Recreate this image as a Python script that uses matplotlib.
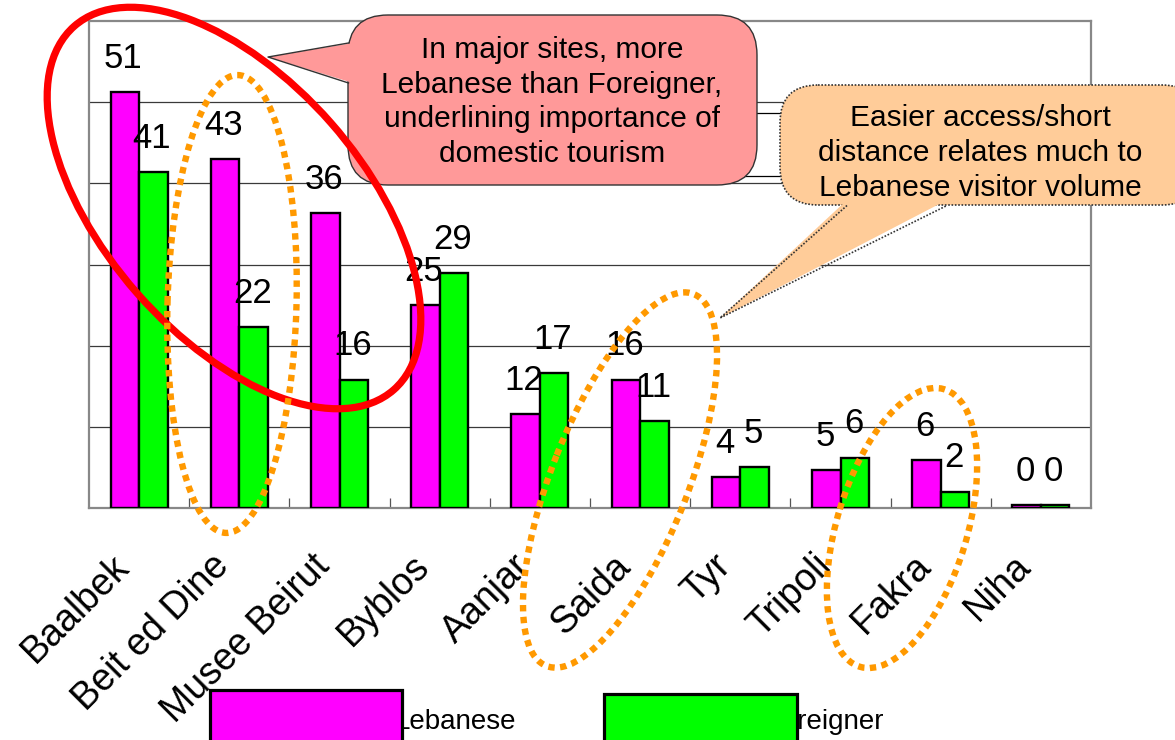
import matplotlib
matplotlib.use('Agg')
import matplotlib.pyplot as plt
from matplotlib.patches import Ellipse, FancyBboxPatch, Polygon, Rectangle
import numpy as np

plt.rcParams['font.family'] = ['Liberation Sans', 'DejaVu Sans']

# ---- data ----
sites = ['Baalbek', 'Beit ed Dine', 'Musee Beirut', 'Byblos', 'Aanjar',
         'Saida', 'Tyr', 'Tripoli', 'Fakra', 'Niha']
lebanese = [51.2, 43.0, 36.3, 25.0, 11.6, 15.8, 3.8, 4.7, 5.9, 0.35]
foreigner = [41.4, 22.3, 15.8, 28.9, 16.6, 10.7, 5.0, 6.2, 2.0, 0.35]
lebanese_labels = ['51', '43', '36', '25', '12', '16', '4', '5', '6', '0']
foreigner_labels = ['41', '22', '16', '29', '17', '11', '5', '6', '2', '0']
series_names = ['Lebanese', 'Foreigner']
callout_pink = 'In major sites, more\nLebanese than Foreigner,\nunderlining importance of\ndomestic tourism'
callout_peach = 'Easier access/short\ndistance relates much to\nLebanese visitor volume'

W, H = 1175, 740
fig = plt.figure(figsize=(W / 100, H / 100), dpi=100)

# main axes in pixel placement
L, R, T, B = 89, 1091, 21, 508
ax = fig.add_axes([L / W, 1 - B / H, (R - L) / W, (B - T) / H])
x = np.arange(len(sites))
bw = 0.285
ax.bar(x - bw / 2, lebanese, bw, color='#FF00FF', edgecolor='black', linewidth=1.7, zorder=3)
ax.bar(x + bw / 2, foreigner, bw, color='#00FF00', edgecolor='black', linewidth=1.7, zorder=3)
ax.set_xlim(-0.5, len(sites) - 0.5)
ax.set_ylim(0, 60)
ax.set_yticks(np.arange(10, 60, 10))
ax.yaxis.grid(True, color='#3a3a3a', linewidth=0.9, zorder=0)
ax.tick_params(axis='y', length=0, labelleft=False)
ax.set_xticks(x)
ax.set_xticklabels([])
ax.tick_params(axis='x', which='major', length=0)
ax.set_xticks(x[:-1] + 0.5, minor=True)
ax.tick_params(axis='x', which='minor', direction='in', length=7, width=0.9, color='#555555')
for s in ax.spines.values():
    s.set_color('#888888')
    s.set_linewidth(1.6)

for i in range(len(sites)):
    ax.annotate(lebanese_labels[i], xy=(x[i] - bw / 2, lebanese[i]), xytext=(-1, 17.5),
                textcoords='offset points', ha='center', va='baseline', fontsize=25, zorder=5)
    ax.annotate(foreigner_labels[i], xy=(x[i] + bw / 2, foreigner[i]), xytext=(-1, 17.5),
                textcoords='offset points', ha='center', va='baseline', fontsize=25, zorder=5)
    ax.annotate(sites[i], xy=(x[i], 0), xycoords=('data', 'axes fraction'), xytext=(-6, -43),
                textcoords='offset points', rotation=45, rotation_mode='anchor',
                ha='right', va='baseline', fontsize=27, annotation_clip=False)

# overlay in pixel coordinates (y downwards)
ov = fig.add_axes([0, 0, 1, 1], zorder=10)
ov.set_xlim(0, W)
ov.set_ylim(H, 0)
ov.axis('off')
ov.patch.set_alpha(0)

# hidden box behind pink callout
ov.add_patch(Rectangle((640, 113), 150, 63, facecolor='white', edgecolor='black', linewidth=0.9, zorder=1))

# pink callout
ov.add_patch(FancyBboxPatch((348, 15), 409, 170, boxstyle='round,pad=0,rounding_size=40',
                            facecolor='#FF9999', edgecolor='#333333', linewidth=1, zorder=2))
ov.add_patch(Polygon([(353, 43), (268, 57), (353, 83)], closed=True, facecolor='#FF9999',
                     edgecolor='none', zorder=3))
ov.plot([348.5, 268, 348.5], [43, 57, 83], color='#333333', linewidth=1, zorder=3)
ov.text(552, 102, callout_pink, ha='center', va='center', fontsize=21.5, linespacing=1.3, zorder=4)

# peach callout
ov.add_patch(FancyBboxPatch((780, 85), 420, 120, boxstyle='round,pad=0,rounding_size=38',
                            facecolor='#FFCC99', edgecolor='#333333', linewidth=1.2,
                            linestyle=(0, (1, 1)), zorder=2))
ov.add_patch(Polygon([(847, 200), (720, 318), (947, 200)], closed=True, facecolor='#FFCC99',
                     edgecolor='none', zorder=3))
ov.plot([847, 720, 947], [205.5, 318, 205.5], color='#333333', linewidth=1.2,
        linestyle=(0, (1, 1)), zorder=3)
ov.text(980, 153, callout_peach, ha='center', va='center', fontsize=21.5, linespacing=1.33, zorder=4)

# red ellipse
ov.add_patch(Ellipse((234, 208), 484, 258, angle=48.7, fill=False, edgecolor='#FF0000',
                     linewidth=5.2, zorder=6))
# orange dotted ellipses
dot = (0, (1.0, 0.85))
for (cx, cy, w, h, ang) in [(232, 304, 458, 129, -88.5), (620, 480, 400, 136, -68.4),
                            (902, 528, 290, 130, -73.1)]:
    ov.add_patch(Ellipse((cx, cy), w, h, angle=ang, fill=False, edgecolor='#FF9900',
                         linewidth=4.6, linestyle=dot, capstyle='butt', zorder=7))

# legend (text partly hidden by the swatches)
ov.text(395, 722, series_names[0], ha='left', va='center', fontsize=20, zorder=1)
ov.text(766, 722, series_names[1], ha='left', va='center', fontsize=20, zorder=1)
ov.add_patch(Rectangle((210, 690), 192, 70, facecolor='#FF00FF', edgecolor='black', linewidth=2.3, zorder=2))
ov.add_patch(Rectangle((604, 694), 193, 70, facecolor='#00FF00', edgecolor='black', linewidth=2.3, zorder=2))

fig.savefig('out.png', dpi=100)
